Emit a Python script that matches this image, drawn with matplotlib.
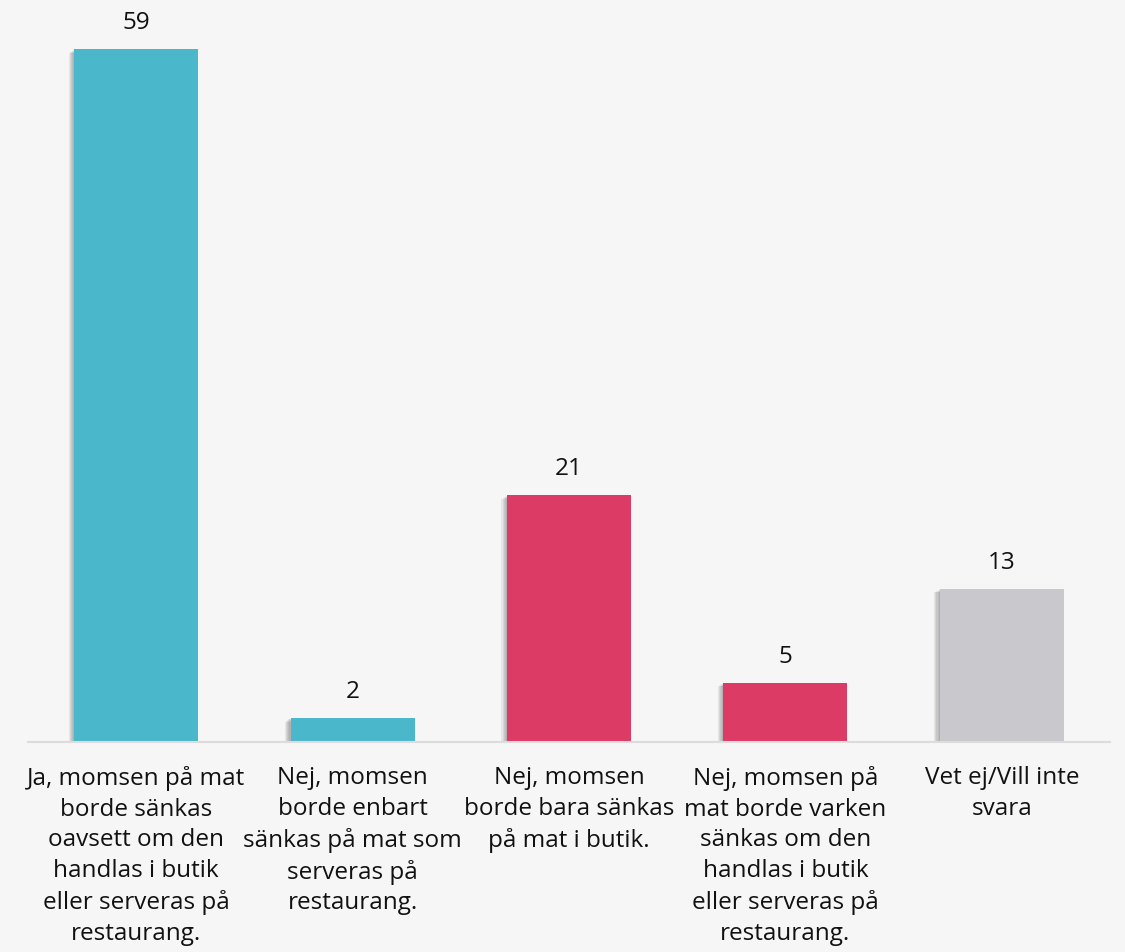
import matplotlib
matplotlib.use("Agg")
import matplotlib.pyplot as plt
import matplotlib.patheffects as pe

categories = [
    "Ja, momsen på mat\nborde sänkas\noavsett om den\nhandlas i butik\neller serveras på\nrestaurang.",
    "Nej, momsen\nborde enbart\nsänkas på mat som\nserveras på\nrestaurang.",
    "Nej, momsen\nborde bara sänkas\npå mat i butik.",
    "Nej, momsen på\nmat borde varken\nsänkas om den\nhandlas i butik\neller serveras på\nrestaurang.",
    "Vet ej/Vill inte\nsvara",
]
values = [59, 2, 21, 5, 13]
colors = ["#4BB7CB", "#4BB7CB", "#DC3B65", "#DC3B65", "#C9C8CD"]

plt.rcParams['font.family'] = ['Open Sans', 'DejaVu Sans']
bg = "#F6F6F6"
fig = plt.figure(figsize=(11.25, 9.53), dpi=100, facecolor=bg)
base = 742.5
ax = fig.add_axes([28/1125, 1 - base/953, (1110-28)/1125, base/953])
ax.set_facecolor(bg)

x = list(range(len(values)))
shadow = [pe.SimplePatchShadow(offset=(-k*0.8, -k*0.5), shadow_rgbFace="#444444", alpha=0.09) for k in range(1, 6)]
bars = ax.bar(x, values, width=0.573, color=colors, zorder=3)
for b in bars:
    b.set_path_effects(shadow + [pe.Normal()])
    ax.annotate(f"{b.get_height():g}", (b.get_x() + b.get_width()/2, b.get_height()),
                xytext=(0, 11), textcoords="offset points", ha="center", va="bottom",
                fontsize=17.5, color="#111111")

ax.set_xlim(-0.5, 4.5)
ax.set_ylim(0, base/11.73)
ax.set_yticks([])
ax.set_xticks(x)
ax.set_xticklabels(categories, fontsize=17.5, color="#111111", linespacing=1.37)
ax.tick_params(axis="x", length=0, pad=17)
for s in ["top", "right", "left"]:
    ax.spines[s].set_visible(False)
ax.spines["bottom"].set_color("#DCDCDC")
ax.spines["bottom"].set_linewidth(1.5)
ax.spines["bottom"].set_zorder(4)

fig.savefig("out.png", dpi=100, facecolor=bg)
